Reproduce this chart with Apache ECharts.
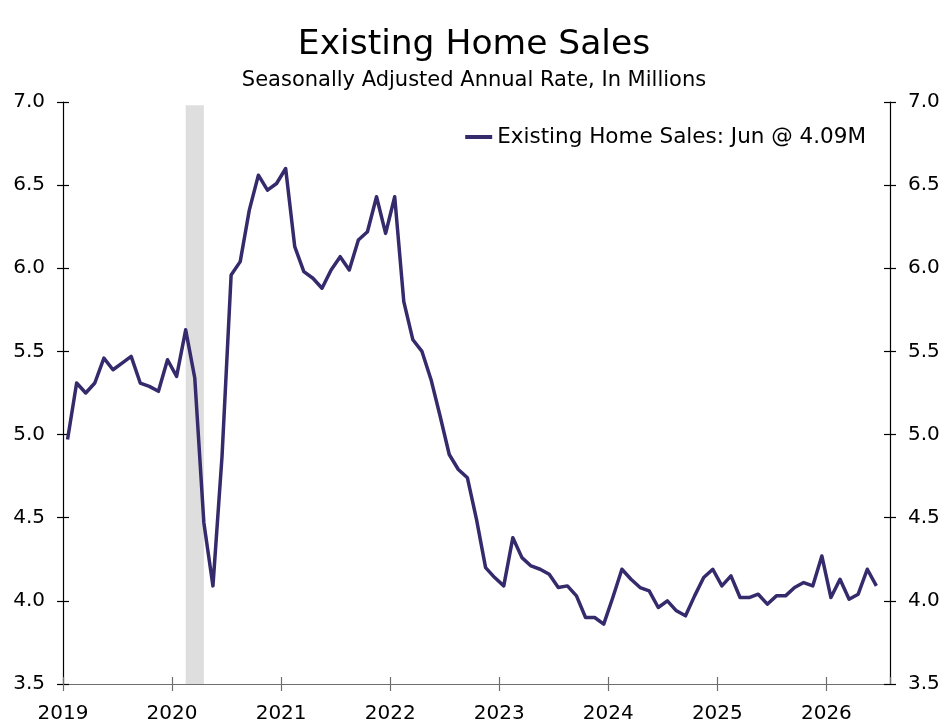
<!DOCTYPE html>
<html>
<head>
<meta charset="utf-8">
<script src="https://cdn.jsdelivr.net/npm/echarts@6/dist/echarts.min.js"></script>
<style>
  html, body { margin: 0; padding: 0; background: #fff; }
  #chart-panel { width: 948px; height: 728px; }
</style>
</head>
<body>
<div id="chart-panel"></div>
<script>
// monthly existing home sales, SAAR, millions
var yearTicks = ['2019', '2020', '2021', '2022', '2023', '2024', '2025', '2026'];
var sales2019 = [4.97, 5.31, 5.25, 5.31, 5.46, 5.39, 5.43, 5.47, 5.31, 5.29, 5.26, 5.45];
var sales2020 = [5.35, 5.63, 5.34, 4.47, 4.09, 4.87, 5.96, 6.04, 6.35, 6.56, 6.47, 6.51];
var sales2021 = [6.60, 6.13, 5.98, 5.94, 5.88, 5.99, 6.07, 5.99, 6.17, 6.22, 6.43, 6.21];
var sales2022 = [6.43, 5.80, 5.57, 5.50, 5.33, 5.11, 4.88, 4.79, 4.74, 4.49, 4.20, 4.14];
var sales2023 = [4.09, 4.38, 4.26, 4.21, 4.19, 4.16, 4.08, 4.09, 4.03, 3.90, 3.90, 3.86];
var sales2024 = [4.02, 4.19, 4.13, 4.08, 4.06, 3.96, 4.00, 3.94, 3.91, 4.03, 4.14, 4.19];
var sales2025 = [4.09, 4.15, 4.02, 4.02, 4.04, 3.98, 4.03, 4.03, 4.08, 4.11, 4.09, 4.27];
var sales2026 = [4.02, 4.13, 4.01, 4.04, 4.19, 4.09];
// recession shading, months since Jan 2019 (Feb 2020 - Apr 2020)
var recession = [13.5, 15.5];

var allSales = [].concat(sales2019, sales2020, sales2021, sales2022,
                         sales2023, sales2024, sales2025, sales2026);
// points sit mid-month
var lineData = allSales.map(function (v, i) { return [i + 0.5, v]; });
var last = allSales[allSales.length - 1];
var seriesName = 'Existing Home Sales: Jun @ ' + last.toFixed(2) + 'M';

var FONT = 'DejaVu Sans';
var LINE = '#352a6b';

var myChart = echarts.init(document.getElementById('chart-panel'));

function yAx(pos, inside, labels) {
    return {
        type: 'value', position: pos, min: 3.5, max: 7, interval: 0.5,
        splitLine: { show: false },
        axisLine: { show: !inside, lineStyle: { color: '#000', width: 1.2 } },
        axisTick: { show: true, inside: inside, length: 6, lineStyle: { color: '#000', width: 1.2 } },
        axisLabel: {
            show: labels, margin: 18, color: '#000', fontFamily: FONT, fontSize: 20,
            formatter: function (v) { return v.toFixed(1); }
        }
    };
}
function xAx(inside) {
    return {
        type: 'value', position: 'bottom', min: 0, max: 91, interval: 12,
        splitLine: { show: false },
        axisLine: { show: !inside, onZero: false, lineStyle: { color: '#6e6e6e', width: 1.2 } },
        axisTick: { show: true, inside: inside, length: 7, lineStyle: { color: '#6e6e6e', width: 1.2 } },
        axisLabel: {
            show: !inside, margin: 20, color: '#000', fontFamily: FONT, fontSize: 20,
            showMaxLabel: false,
            formatter: function (v) { return v % 12 === 0 ? yearTicks[v / 12] : ''; }
        }
    };
}

var option = {
    backgroundColor: '#fff',
    animation: false,
    title: [{
        text: 'Existing Home Sales', left: 'center', top: 23,
        textStyle: { fontFamily: FONT, fontSize: 34.5, fontWeight: 'normal', color: '#000', lineHeight: 34 }
    }, {
        text: 'Seasonally Adjusted Annual Rate, In Millions', left: 'center', top: 65,
        textStyle: { fontFamily: FONT, fontSize: 21, fontWeight: 'normal', color: '#000', lineHeight: 21 }
    }],
    legend: {
        data: [seriesName], right: 82, top: 125, padding: 0,
        icon: 'rect', itemWidth: 27, itemHeight: 4,
        textStyle: { fontFamily: FONT, fontSize: 21.5, color: '#000', lineHeight: 24 }
    },
    grid: { left: 63, right: 58, top: 102, bottom: 44, containLabel: false },
    xAxis: [xAx(false), xAx(true)],
    yAxis: [yAx('left', false, true), yAx('left', true, false),
            yAx('right', false, true), yAx('right', true, false)],
    series: [{
        name: 'recession', type: 'line', data: [], z: 1, silent: true,
        markArea: {
            silent: true,
            itemStyle: { color: '#dedede' },
            data: [[{ xAxis: recession[0], yAxis: 3.5 }, { xAxis: recession[1], yAxis: 6.98 }]]
        }
    }, {
        name: seriesName, type: 'line', data: lineData, z: 3,
        showSymbol: false, symbol: 'none',
        lineStyle: { color: LINE, width: 3.5, join: 'round' },
        itemStyle: { color: LINE }
    }]
};
myChart.setOption(option);
</script>
</body>
</html>
